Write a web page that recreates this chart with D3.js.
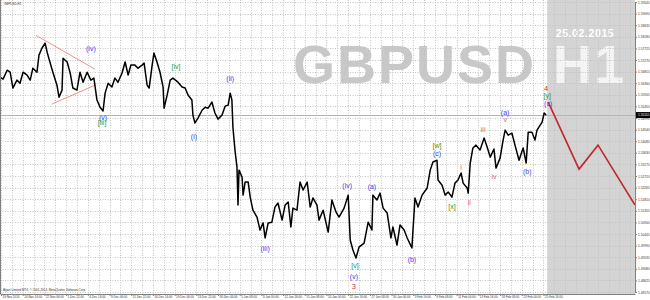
<!DOCTYPE html>
<html>
<head>
<meta charset="utf-8">
<script src="https://cdn.jsdelivr.net/npm/d3@7"></script>
<style>
  body { margin: 0; background: #fff; }
  svg { display: block; font-family: "Liberation Sans", Arial, sans-serif; }
</style>
</head>
<body>
<div id="chart"></div>
<script>
// GBPUSD H1 with an Elliott wave count and forecast

// hourly chart, sampled: bar number (from the first bar on screen) and price
var barIndex = [0,9,21,30,38,50,59,68,80,89,97,109,115,124,133,139,148,156,168,174,
  183,186,198,207,215,227,236,245,257,268,277,286,295,304,310,319,330,339,348,360,
  369,378,386,398,407,419,425,434,440,448,454,463,472,481,484,493,502,510,525,537,
  546,555,566,569,575,584,596,605,614,625,634,643,655,664,673,679,684,687,693,699,
  702,705,714,717,723,732,738,746,758,767,776,782,791,802,811,820,832,841,850,858,
  864,876,885,894,906,915,923,935,941,953,968,979,991,1000,1015,1027,1033,1041,1050,1059,
  1074,1086,1097,1100,1112,1121,1130,1142,1153,1159,1171,1180,1192,1201,1215,1224,1233,1245,1260,1269,
  1277,1289,1292,1304,1313,1322,1333,1342,1351,1360,1366,1378,1381,1387,1395,1404,1416,1428,1437,1446,
  1457,1463,1475,1484,1490,1499,1510,1519,1531,1543,1552,1558,1569,1578,1584,1599,1605,1611];
var price = [1.5660,1.5652,1.5687,1.5679,1.5617,1.5648,1.5636,1.5679,1.5668,1.5648,
  1.5695,1.5679,1.5746,1.5774,1.5793,1.5758,1.5715,1.5679,1.5628,1.5581,
  1.5609,1.5734,1.5719,1.5676,1.5617,1.5609,1.5679,1.5640,1.5679,1.5648,
  1.5656,1.5570,1.5542,1.5527,1.5597,1.5636,1.5621,1.5656,1.5640,1.5676,
  1.5719,1.5668,1.5707,1.5707,1.5695,1.5707,1.5715,1.5628,1.5617,1.5699,
  1.5754,1.5719,1.5679,1.5621,1.5538,1.5589,1.5648,1.5656,1.5640,1.5621,
  1.5617,1.5589,1.5570,1.5511,1.5480,1.5499,1.5530,1.5542,1.5538,1.5562,
  1.5519,1.5495,1.5511,1.5546,1.5550,1.5597,1.5570,1.5464,1.5374,1.5307,
  1.5158,1.5295,1.5268,1.5197,1.5248,1.5248,1.5189,1.5138,1.5111,1.5060,
  1.5088,1.5029,1.5088,1.5091,1.5150,1.5166,1.5099,1.5158,1.5170,1.5072,
  1.5146,1.5138,1.5248,1.5217,1.5248,1.5150,1.5186,1.5158,1.5099,1.5138,
  1.5052,1.5178,1.5131,1.5111,1.5146,1.5197,1.5021,1.4982,1.4950,1.4993,
  1.5009,1.5091,1.5060,1.5197,1.5178,1.5205,1.5146,1.5127,1.5029,1.5072,
  1.5001,1.5080,1.5060,1.5029,1.4990,1.5186,1.5150,1.5197,1.5225,1.5295,
  1.5327,1.5334,1.5256,1.5236,1.5197,1.5209,1.5189,1.5244,1.5256,1.5284,
  1.5244,1.5225,1.5205,1.5323,1.5382,1.5393,1.5374,1.5421,1.5385,1.5346,
  1.5378,1.5303,1.5342,1.5413,1.5452,1.5432,1.5440,1.5393,1.5334,1.5382,
  1.5323,1.5444,1.5444,1.5413,1.5452,1.5483,1.5519,1.5511];

// projected path after the last bar
var forecastBars = [1617, 1708, 1764, 1873];
var forecastPrices = [1.5562, 1.5299, 1.5393, 1.5158];

// contracting triangle lines
var triUpperBars = [106, 280], triUpperPrices = [1.5824, 1.5691];
var triLowerBars = [153, 280], triLowerPrices = [1.5554, 1.5628];

// wave labels
var waveText   = ["(i)","(iv)","(v)","(i)","(ii)","(iii)","(iv)","(a)","(v)","(b)","(c)","(a)","(b)","(c)",
                  "[iii]","[iv]","[v]","[w]","[x]","[y]",
                  "3","4",
                  "iii","v","i","ii","iv"];
var waveBars   = [-5,268,304,572,679,782,1024,1097,1044,1215,1289,1490,1555,1617,
                  301,519,1047,1289,1333,1614,
                  1044,1611,
                  1425,1490,1360,1384,1457];
var wavePrices = [1.5538,1.5774,1.5503,1.5425,1.5656,1.4986,1.5233,1.5229,1.4876,1.4946,1.5362,1.5523,1.5291,1.5556,
                  1.5480,1.5703,1.4919,1.5393,1.5154,1.5586,
                  1.4837,1.5615,
                  1.5456,1.5495,1.5307,1.5170,1.5272];
var waveDegree = ["minuette","minuette","minuette","minuette","minuette","minuette","minuette","minuette","minuette","minuette","minuette","minuette","minuette","minuette",
                  "minute","minute","minute","minute","minute","minute",
                  "minor","minor",
                  "subminuette","subminuette","subminuette","subminuette","subminuette"];

// axis labels
var timeLabels = ["19 Nov 2014","24 Nov 14:00","27 Nov 06:00","1 Dec 22:00","4 Dec 14:00","9 Dec 06:00",
  "11 Dec 22:00","16 Dec 14:00","19 Dec 06:00","23 Dec 22:00","30 Dec 06:00","5 Jan 08:00","8 Jan 00:00",
  "12 Jan 16:00","15 Jan 08:00","20 Jan 00:00","22 Jan 16:00","27 Jan 08:00","30 Jan 00:00","3 Feb 16:00",
  "6 Feb 08:00","11 Feb 00:00","13 Feb 16:00","18 Feb 08:00","23 Feb 00:00","25 Feb 16:00"];
var priceTicks = [1.48170,1.48625,1.49080,1.49535,1.49990,1.50445,1.50900,1.51355,1.51810,1.52265,
  1.52720,1.53175,1.53630,1.54085,1.54540,1.54995,1.55450,1.55905,1.56360,1.56815,
  1.57270,1.57725,1.58180,1.58635,1.59090,1.59545];

var barsPerLabel = 64;
var futureStart = 1614;

// --- layout
var svgWidth = 650, svgHeight = 300;
var plot = { left: 0, right: 635, top: 0, bottom: 294 };

var degreeColor = { minuette: "#3c3cf0", minute: "#2e962e", minor: "#cc3030", subminuette: "#e06464" };

var svg = d3.select("#chart").append("svg")
    .attr("width", svgWidth)
    .attr("height", svgHeight);

var xScale = d3.scaleLinear().domain([0, 1873]).range([plot.left, plot.right]);
var yScale = d3.scaleLinear().domain([1.4817, 1.59545]).range([292, 2]);

var defs = svg.append("defs");
defs.append("clipPath").attr("id", "plotClip").append("rect")
    .attr("x", plot.left).attr("y", plot.top)
    .attr("width", plot.right - plot.left).attr("height", plot.bottom - plot.top);
defs.append("clipPath").attr("id", "pastClip").append("rect")
    .attr("x", plot.left).attr("y", plot.top)
    .attr("width", xScale(futureStart) - plot.left).attr("height", plot.bottom - plot.top);
defs.append("clipPath").attr("id", "futureClip").append("rect")
    .attr("x", xScale(futureStart)).attr("y", plot.top)
    .attr("width", plot.right - xScale(futureStart)).attr("height", plot.bottom - plot.top);

var chart = svg.append("g").attr("clip-path", "url(#plotClip)");

// shaded future area
chart.append("rect")
    .attr("x", xScale(futureStart)).attr("y", plot.top)
    .attr("width", plot.right - xScale(futureStart)).attr("height", plot.bottom - plot.top)
    .attr("fill", "#d4d4d4");

// watermark, gray on white, white on the shaded part
var marks = [{ clip: "pastClip", fill: "#c8c8c8" }, { clip: "futureClip", fill: "#f4f4f4" }];
marks.forEach(function (m) {
    chart.append("text")
        .attr("clip-path", "url(#" + m.clip + ")")
        .attr("x", 293).attr("y", 83)
        .attr("font-size", 54).attr("font-weight", "bold")
        .attr("letter-spacing", 2)
        .attr("fill", m.fill)
        .text("GBPUSD H1");
});
chart.append("text")
    .attr("x", 585).attr("y", 37)
    .attr("text-anchor", "middle")
    .attr("font-size", 10.5).attr("font-weight", "bold")
    .attr("letter-spacing", 0.6)
    .attr("fill", "#ffffff")
    .text("25.02.2015");

// grid
var gridBars = d3.range(3, 1873, barsPerLabel / 2);
chart.append("g").selectAll("line").data(gridBars).enter().append("line")
    .attr("x1", d => Math.round(xScale(d)) + 0.5).attr("x2", d => Math.round(xScale(d)) + 0.5)
    .attr("y1", plot.top).attr("y2", plot.bottom)
    .attr("stroke", "#c4c4c4").attr("stroke-dasharray", "1,1.5");
chart.append("g").selectAll("line").data(priceTicks).enter().append("line")
    .attr("x1", plot.left).attr("x2", plot.right)
    .attr("y1", d => Math.round(yScale(d)) + 0.5).attr("y2", d => Math.round(yScale(d)) + 0.5)
    .attr("stroke", "#c4c4c4").attr("stroke-dasharray", "1,1.5");

// bid line
var lastPrice = price[price.length - 1];
chart.append("line")
    .attr("x1", plot.left).attr("x2", plot.right)
    .attr("y1", Math.round(yScale(lastPrice)) + 0.5).attr("y2", Math.round(yScale(lastPrice)) + 0.5)
    .attr("stroke", "#b4b4b4");

// triangle
var lineGen = d3.line().x(d => xScale(d[0])).y(d => yScale(d[1]));
[[triUpperBars, triUpperPrices], [triLowerBars, triLowerPrices]].forEach(function (t) {
    chart.append("path")
        .datum(d3.zip(t[0], t[1]))
        .attr("d", lineGen)
        .attr("fill", "none").attr("stroke", "#ee9090").attr("stroke-width", 1);
});

// price
chart.append("path")
    .datum(d3.zip(barIndex, price))
    .attr("d", lineGen)
    .attr("fill", "none")
    .attr("stroke", "#000")
    .attr("stroke-width", 1.5)
    .attr("stroke-linejoin", "round");

// forecast
chart.append("path")
    .datum(d3.zip(forecastBars, forecastPrices))
    .attr("d", lineGen)
    .attr("fill", "none")
    .attr("stroke", "#c0282d")
    .attr("stroke-width", 1.6);

// wave labels
chart.append("g").selectAll("text").data(waveText).enter().append("text")
    .attr("x", (d, i) => xScale(waveBars[i]))
    .attr("y", (d, i) => yScale(wavePrices[i]))
    .attr("text-anchor", "middle")
    .attr("dominant-baseline", "central")
    .attr("font-size", (d, i) => waveDegree[i] == "minor" ? 7.5 : 7)
    .attr("fill", (d, i) => degreeColor[waveDegree[i]])
    .text(d => d);

// axes
var tickBars = timeLabels.map((d, i) => 3 + i * barsPerLabel);
var xAxis = d3.axisBottom(xScale).tickValues(tickBars)
    .tickFormat((d, i) => timeLabels[i]).tickSize(2).tickSizeOuter(0);
var gx = svg.append("g").attr("transform", `translate(0, ${plot.bottom})`).call(xAxis);
gx.select(".domain").attr("stroke", "#808080");
gx.selectAll(".tick line").attr("stroke", "#808080");
gx.selectAll(".tick text")
    .attr("text-anchor", "start").attr("x", 1).attr("y", 2).attr("dy", "0.75em")
    .attr("font-size", 3).attr("fill", "#333").attr("font-family", "Liberation Sans, Arial, sans-serif");

var yAxis = d3.axisRight(yScale).tickValues(priceTicks)
    .tickFormat(d3.format(".5f")).tickSize(2).tickSizeOuter(0);
var gy = svg.append("g").attr("transform", `translate(${plot.right}, 0)`).call(yAxis);
gy.select(".domain").attr("stroke", "#808080");
gy.selectAll(".tick line").attr("stroke", "#808080");
gy.selectAll(".tick text")
    .attr("x", 3).attr("font-size", 3.2).attr("fill", "#333")
    .attr("font-family", "Liberation Sans, Arial, sans-serif");

svg.append("line")
    .attr("x1", 0.5).attr("x2", 0.5).attr("y1", plot.top).attr("y2", plot.bottom)
    .attr("stroke", "#808080");

// current price box
svg.append("rect")
    .attr("x", plot.right + 1).attr("y", yScale(lastPrice) - 3)
    .attr("width", svgWidth - plot.right - 1).attr("height", 6)
    .attr("fill", "#000");
svg.append("text")
    .attr("x", plot.right + 3).attr("y", yScale(lastPrice))
    .attr("dominant-baseline", "central")
    .attr("font-size", 3.2).attr("fill", "#fff")
    .text(d3.format(".5f")(lastPrice));

// title and copyright
svg.append("text")
    .attr("x", 4).attr("y", 5)
    .attr("font-size", 3).attr("fill", "#333")
    .text("GBPUSD,H1");
svg.append("text")
    .attr("x", 3).attr("y", 291)
    .attr("font-size", 3).attr("fill", "#333")
    .text("Alpari Limited MT4, © 2001-2014, MetaQuotes Software Corp.");
</script>
</body>
</html>
